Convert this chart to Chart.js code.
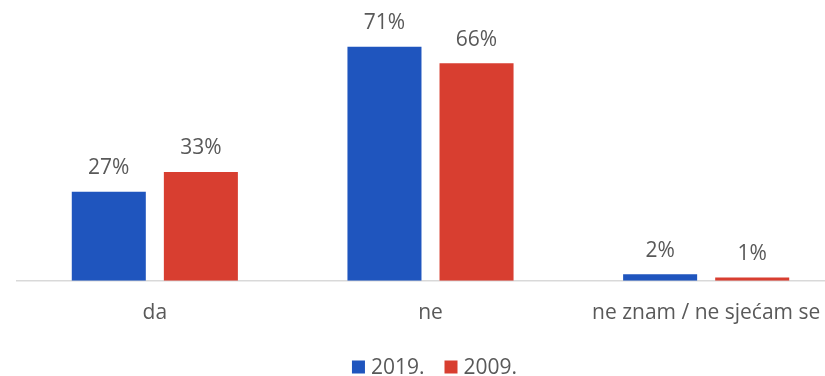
<!DOCTYPE html>
<html>
<head>
<meta charset="utf-8">
<script src="https://cdn.jsdelivr.net/npm/chart.js@4/dist/chart.umd.min.js"></script>
<style>
html,body{margin:0;padding:0;background:#fff;overflow:hidden;}
#wrap{width:825px;height:376px;overflow:hidden;position:relative;}
canvas{display:block;}
</style>
</head>
<body>
<div id="wrap"><canvas id="c" width="845" height="376"></canvas></div>
<script>
const categories = ["da", "ne", "ne znam / ne sjećam se"];
const series2019 = [27, 71, 2];
const series2009 = [33, 66, 1];
const seriesLabels = ["2019.", "2009."];

const FONT = "'Open Sans', 'Noto Sans', sans-serif";
const TXT = "#595959";

const dataLabels = {
  id: "dataLabels",
  afterDatasetsDraw(chart) {
    const ctx = chart.ctx;
    ctx.save();
    ctx.font = "21px " + FONT;
    ctx.fillStyle = TXT;
    ctx.textAlign = "center";
    ctx.textBaseline = "bottom";
    chart.data.datasets.forEach((ds, i) => {
      chart.getDatasetMeta(i).data.forEach((bar, j) => {
        ctx.fillText(ds.data[j] + "%", bar.x, bar.y - 13);
      });
    });
    ctx.restore();
  }
};

// Legend drawn from the chart's own datasets, with Excel-like spacing
const bottomLegend = {
  id: "bottomLegend",
  afterDraw(chart) {
    const ctx = chart.ctx;
    ctx.save();
    ctx.font = "21px " + FONT;
    ctx.textBaseline = "middle";
    ctx.textAlign = "left";
    const box = 13, gapText = 6, gapItem = 20;
    const items = chart.data.datasets.map(ds => ({ text: ds.label, color: ds.backgroundColor, w: ctx.measureText(ds.label).width }));
    let total = 0;
    items.forEach((it, i) => { total += box + gapText + it.w + (i < items.length - 1 ? gapItem : 0); });
    const area = chart.chartArea;
    let x = (area.left + area.right) / 2 - total / 2 + 4;
    const cy = 367;
    items.forEach(it => {
      ctx.fillStyle = it.color;
      ctx.fillRect(x, cy - box / 2, box, box);
      x += box + gapText;
      ctx.fillStyle = TXT;
      ctx.fillText(it.text, x, cy + 1);
      x += it.w + gapItem;
    });
    ctx.restore();
  }
};

new Chart(document.getElementById("c"), {
  type: "bar",
  data: {
    labels: categories,
    datasets: [
      { label: seriesLabels[0], data: series2019, backgroundColor: "#1F55BE", categoryPercentage: 0.668, barPercentage: 0.804 },
      { label: seriesLabels[1], data: series2009, backgroundColor: "#D83E30", categoryPercentage: 0.668, barPercentage: 0.804 }
    ]
  },
  options: {
    responsive: false,
    animation: false,
    layout: { padding: { left: 17, right: 1, top: 17, bottom: 30 } },
    scales: {
      x: {
        grid: { display: false, drawTicks: false },
        border: { color: "#D9D9D9", width: 1.5 },
        ticks: { color: TXT, font: { family: FONT, size: 21 }, padding: 20 }
      },
      y: { display: false, min: 0, max: 80 }
    },
    plugins: {
      legend: { display: false },
      tooltip: { enabled: false }
    }
  },
  plugins: [dataLabels, bottomLegend]
});
</script>
</body>
</html>
